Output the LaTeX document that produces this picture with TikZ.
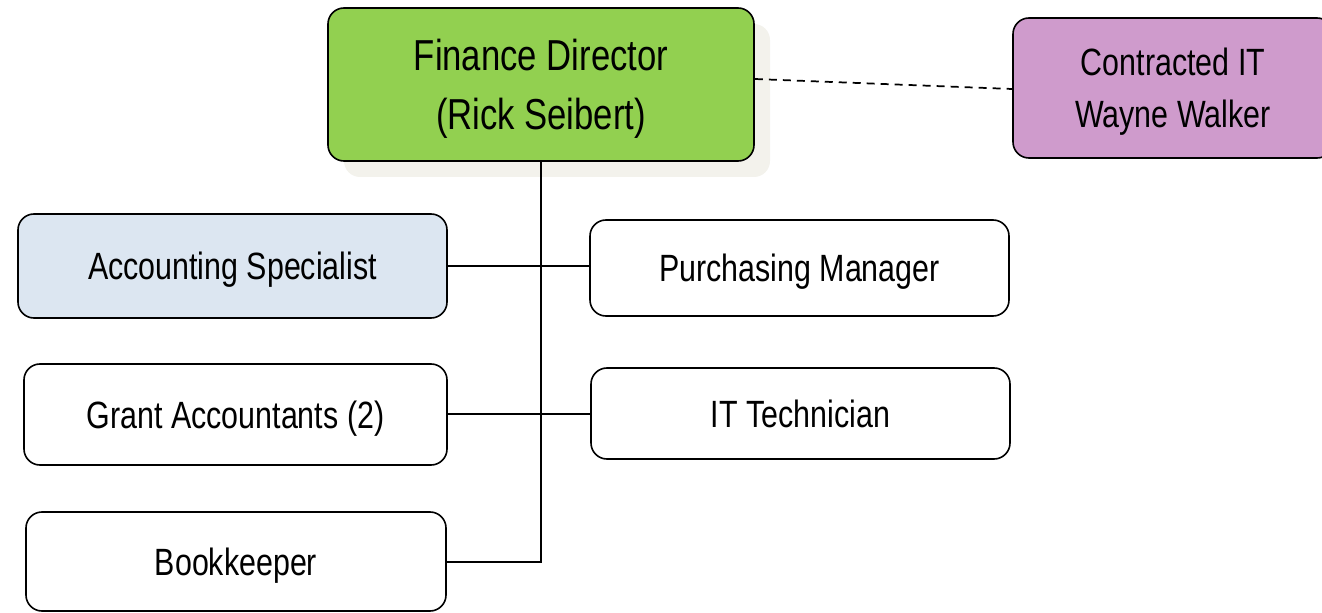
\documentclass[tikz,border=0pt]{standalone}
\usepackage{fontspec}
\setmainfont{Liberation Sans}[FakeStretch=0.8]
\usetikzlibrary{shadows}

\definecolor{fdgreen}{HTML}{92D050}
\definecolor{itpurple}{HTML}{CF9BCC}
\definecolor{accblue}{HTML}{DCE6F1}
\definecolor{shadowgray}{HTML}{F3F2EC}

\tikzset{
  box/.style={draw, line width=1.2pt, rounded corners=12pt, align=center,
    inner sep=0pt, text depth=0pt, font=\fontsize{28.5}{37}\selectfont},
  bigbox/.style={box, font=\fontsize{32.5}{44}\selectfont},
  link/.style={line width=1.2pt},
}

\begin{document}
\begin{tikzpicture}[x=0.75pt,y=-0.75pt]
    \useasboundingbox (0,0) rectangle (1322,613);

    \node[bigbox, fill=fdgreen, minimum width=319.5pt, minimum height=114.75pt,
      drop shadow={shadow xshift=12pt, shadow yshift=-12pt, fill=shadowgray, opacity=1}]
      (director) at (541,84.5) {Finance Director\\(Rick Seibert)};
    \node[box, fill=itpurple, minimum width=240pt, minimum height=105pt,
      font=\fontsize{28.5}{39}\selectfont]
      (contracted) at (1173,88) {Contracted IT\\Wayne Walker};

    \node[box, fill=accblue, minimum width=321.75pt, minimum height=78pt] (accounting) at (232.5,266) {Accounting Specialist};
    \node[box, minimum width=317.25pt, minimum height=75.75pt] (grant) at (235.5,414.5) {Grant Accountants (2)};
    \node[box, minimum width=315pt, minimum height=74.25pt] (bookkeeper) at (236,561.5) {Bookkeeper};

    \node[box, minimum width=314.25pt, minimum height=72pt] (purchasing) at (799.5,268) {Purchasing Manager};
    \node[box, minimum width=314.25pt, minimum height=68.25pt] (ittech) at (800.5,413.5) {IT Technician};

    \coordinate (trunk) at (541,562);

    \draw[link] (director.south) -- (trunk) -- (bookkeeper.east |- trunk);
    \draw[link] (accounting.east |- 0,266) -- (purchasing.west |- 0,266);
    \draw[link] (grant.east |- 0,414) -- (ittech.west |- 0,414);
    \draw[link, line width=1.3pt, dash pattern=on 6pt off 4.5pt] (director.east |- 0,79) -- (contracted.west |- 0,89);

\end{tikzpicture}
\end{document}
